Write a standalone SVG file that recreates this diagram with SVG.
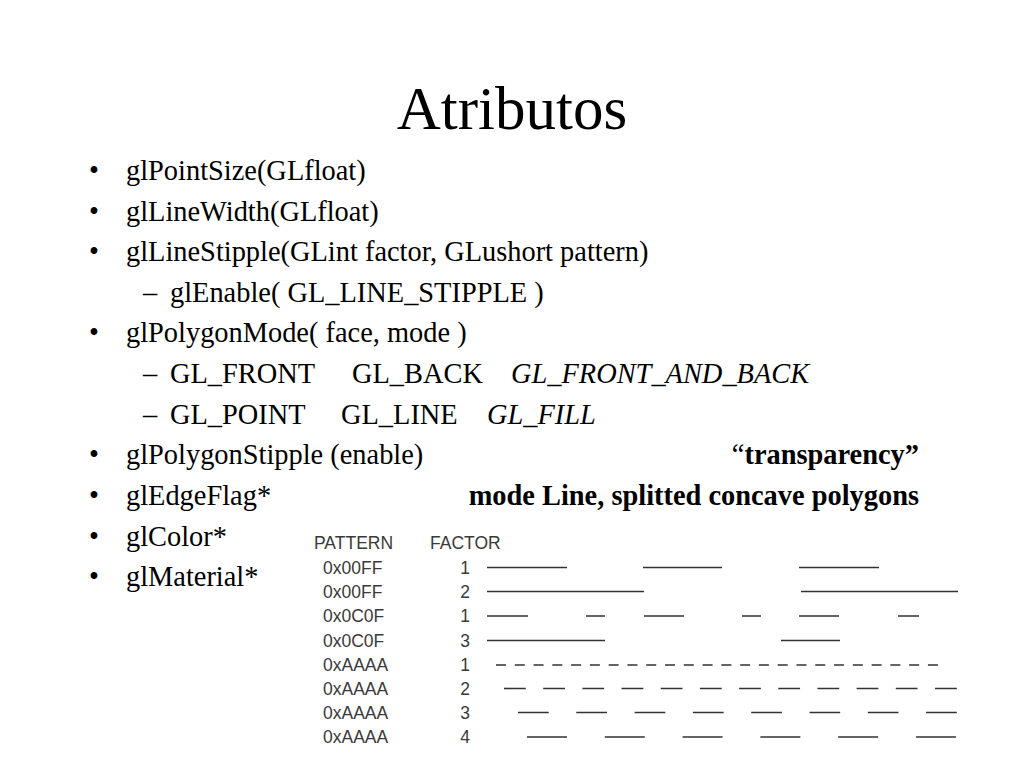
<svg xmlns="http://www.w3.org/2000/svg" width="1024" height="768" viewBox="0 0 1024 768">
<style>
.t{font-family:"Liberation Serif","Times New Roman",serif;font-size:28.4px;fill:#000}
.title{font-family:"Liberation Serif","Times New Roman",serif;font-size:61px;fill:#000}
.b{font-weight:bold}
.i{font-style:italic}
.tb{font-family:"Liberation Sans",Arial,sans-serif;font-size:17.5px;fill:#3a3a3a}
.sl{stroke:#333;stroke-width:1.6;fill:none}
</style>
<rect width="1024" height="768" fill="#fff"/>
<text class="title" x="512" y="129" text-anchor="middle">Atributos</text>
<g id="bullets">
<text class="t" x="89" y="180">•</text><text class="t" x="126" y="180">glPointSize(GLfloat)</text>
<text class="t" x="89" y="221">•</text><text class="t" x="126" y="221">glLineWidth(GLfloat)</text>
<text class="t" x="89" y="261">•</text><text class="t" x="126" y="261">glLineStipple(GLint factor, GLushort pattern)</text>
<text class="t" x="143" y="302">–</text><text class="t" x="170" y="302">glEnable( GL_LINE_STIPPLE )</text>
<text class="t" x="89" y="342">•</text><text class="t" x="126" y="342">glPolygonMode( face, mode )</text>
<text class="t" x="143" y="383">–</text><text class="t" x="170" y="383">GL_FRONT</text><text class="t" x="352" y="383">GL_BACK</text><text class="t i" x="511" y="383">GL_FRONT_AND_BACK</text>
<text class="t" x="143" y="424">–</text><text class="t" x="170" y="424">GL_POINT</text><text class="t" x="341" y="424">GL_LINE</text><text class="t i" x="487" y="424">GL_FILL</text>
<text class="t" x="89" y="464">•</text><text class="t" x="126" y="464">glPolygonStipple (enable)</text>
<text class="t" x="919" y="464" text-anchor="end">“<tspan class="b">transparency”</tspan></text>
<text class="t" x="89" y="505">•</text><text class="t" x="126" y="505">glEdgeFlag*</text>
<text class="t b" x="919" y="505" text-anchor="end">mode Line, splitted concave polygons</text>
<text class="t" x="89" y="546">•</text><text class="t" x="126" y="546">glColor*</text>
<text class="t" x="89" y="586">•</text><text class="t" x="126" y="586">glMaterial*</text>
</g>
<g id="table">
<text class="tb" x="314" y="549">PATTERN</text>
<text class="tb" x="430" y="549">FACTOR</text>
<g id="labels">
<text class="tb" x="323" y="573.5">0x00FF</text><text class="tb" x="465" y="573.5" text-anchor="middle">1</text>
<text class="tb" x="323" y="597.5">0x00FF</text><text class="tb" x="465" y="597.5" text-anchor="middle">2</text>
<text class="tb" x="323" y="622">0x0C0F</text><text class="tb" x="465" y="622" text-anchor="middle">1</text>
<text class="tb" x="323" y="646.5">0x0C0F</text><text class="tb" x="465" y="646.5" text-anchor="middle">3</text>
<text class="tb" x="323" y="670.5">0xAAAA</text><text class="tb" x="465" y="670.5" text-anchor="middle">1</text>
<text class="tb" x="323" y="694.5">0xAAAA</text><text class="tb" x="465" y="694.5" text-anchor="middle">2</text>
<text class="tb" x="323" y="718.5">0xAAAA</text><text class="tb" x="465" y="718.5" text-anchor="middle">3</text>
<text class="tb" x="323" y="743">0xAAAA</text><text class="tb" x="465" y="743" text-anchor="middle">4</text>
</g>
<g id="stipples">
<path class="sl" d="M487 567.5H567M643 567.5H722M799 567.5H879"/>
<path class="sl" d="M487 591.5H644M801 591.5H958"/>
<path class="sl" d="M487 616H528M586 616H605M644 616H684M742 616H761M799 616H839M898 616H919"/>
<path class="sl" d="M487 640.5H605M781 640.5H840"/>
<line class="sl" x1="496" y1="665" x2="938" y2="665" stroke-dasharray="10 8.78"/>
<line class="sl" x1="504" y1="688.5" x2="957" y2="688.5" stroke-dasharray="21.8 17.38"/>
<line class="sl" x1="518" y1="712.5" x2="957" y2="712.5" stroke-dasharray="30.7 27.6"/>
<line class="sl" x1="527" y1="737" x2="957" y2="737" stroke-dasharray="40 37.8"/>
</g>
</g>
</svg>
